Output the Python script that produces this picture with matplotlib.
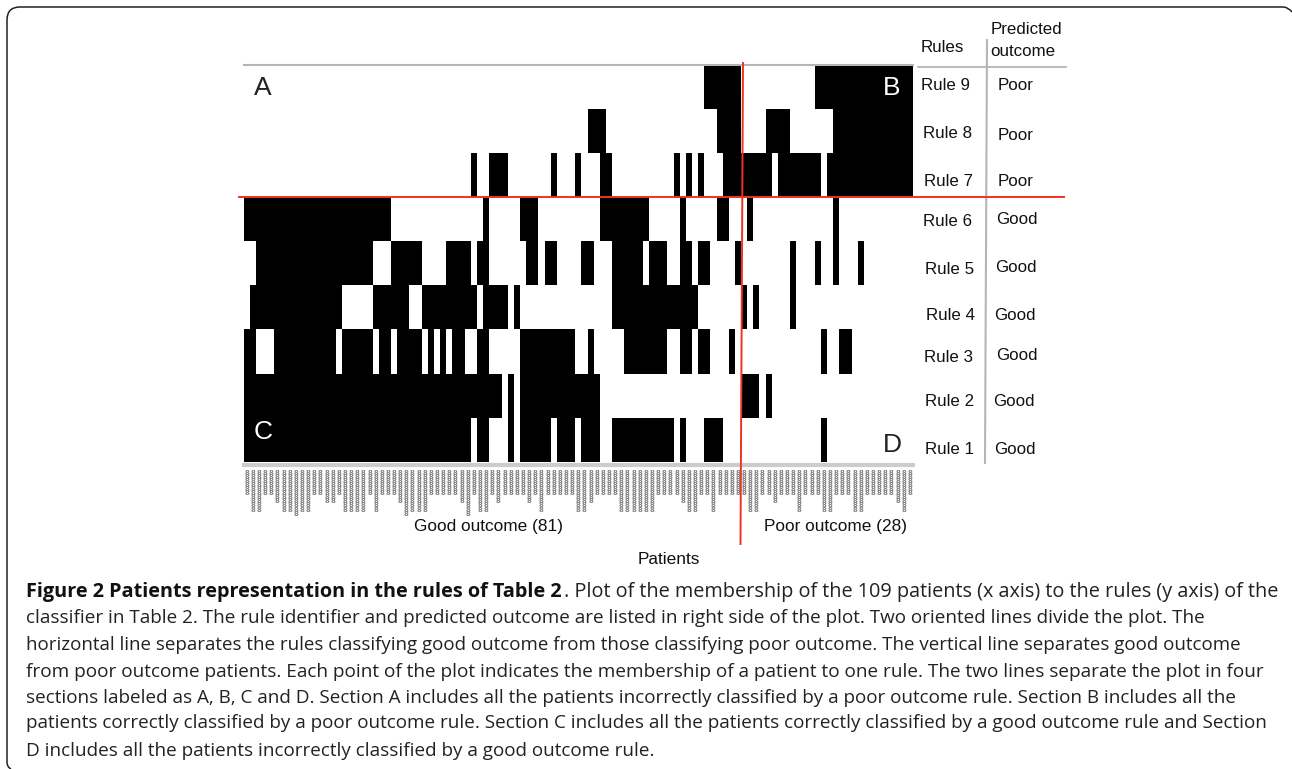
import numpy as np
import matplotlib
matplotlib.use('Agg')
import matplotlib.pyplot as plt
from matplotlib.patches import PathPatch
from matplotlib.path import Path

# membership runs per rule, as (first patient, last patient + 1)
rule_9 = [(75, 81), (93, 109)]
rule_8 = [(56, 59), (77, 81), (85, 89), (96, 109)]
rule_7 = [(37, 38), (40, 43), (50, 51), (54, 55), (58, 60), (70, 71), (72, 73), (74, 75),
          (78, 86), (87, 94), (95, 109)]
rule_6 = [(0, 24), (39, 40), (45, 48), (58, 66), (71, 72), (77, 79), (82, 83), (96, 97)]
rule_5 = [(2, 21), (24, 29), (33, 37), (38, 40), (46, 48), (49, 51), (55, 57), (60, 65),
          (66, 69), (71, 73), (74, 76), (80, 81), (89, 90), (93, 94), (96, 97), (100, 101)]
rule_4 = [(1, 16), (21, 27), (29, 38), (39, 43), (44, 45), (60, 74), (81, 82), (83, 84), (89, 90)]
rule_3 = [(0, 2), (5, 15), (16, 21), (22, 24), (25, 29), (30, 31), (32, 33), (34, 36), (38, 40),
          (45, 54), (56, 57), (62, 69), (71, 73), (74, 76), (79, 80), (94, 95), (97, 99)]
rule_2 = [(0, 42), (43, 44), (45, 58), (81, 84), (85, 86)]
rule_1 = [(0, 37), (38, 40), (43, 44), (45, 50), (51, 54), (55, 58), (60, 70), (71, 72),
          (75, 78), (94, 95)]

n_patients = 109
rule_names = ['Rule 1', 'Rule 2', 'Rule 3', 'Rule 4', 'Rule 5', 'Rule 6', 'Rule 7', 'Rule 8', 'Rule 9']
predicted = ['Good', 'Good', 'Good', 'Good', 'Good', 'Good', 'Poor', 'Poor', 'Poor']

# patient ids are unreadable in the source, only their length can be estimated
id_lengths = [6, 10, 10, 6, 6, 8, 10, 10, 11, 10,
              10, 6, 6, 8, 8, 6, 10, 10, 10, 10,
              6, 10, 6, 6, 6, 8, 11, 10, 10, 10,
              6, 6, 6, 6, 6, 8, 11, 6, 10, 10,
              6, 8, 6, 6, 6, 6, 8, 6, 10, 6,
              6, 6, 6, 6, 10, 10, 8, 6, 6, 6,
              6, 10, 10, 10, 10, 10, 10, 6, 6, 6,
              6, 8, 10, 10, 6, 6, 10, 6, 6, 6,
              6, 6, 10, 10, 6, 6, 8, 6, 6, 6,
              10, 6, 6, 6, 10, 10, 6, 6, 6, 10,
              10, 6, 6, 6, 6, 6, 8, 10, 6]

caption_head = 'Figure 2 Patients representation in the rules of Table 2'
caption_lines = [
    '. Plot of the membership of the 109 patients (x axis) to the rules (y axis) of the',
    'classifier in Table 2. The rule identifier and predicted outcome are listed in right side of the plot. Two oriented lines divide the plot. The',
    'horizontal line separates the rules classifying good outcome from those classifying poor outcome. The vertical line separates good outcome',
    'from poor outcome patients. Each point of the plot indicates the membership of a patient to one rule. The two lines separate the plot in four',
    'sections labeled as A, B, C and D. Section A includes all the patients incorrectly classified by a poor outcome rule. Section B includes all the',
    'patients correctly classified by a poor outcome rule. Section C includes all the patients correctly classified by a good outcome rule and Section',
    'D includes all the patients incorrectly classified by a good outcome rule.',
]

W, H = 1292, 769
plt.rcParams['font.family'] = ['Liberation Sans', 'DejaVu Sans']
fig = plt.figure(figsize=(W / 100, H / 100), dpi=100)

# page overlay in pixel coordinates, for the frame, guide lines and labels
page = fig.add_axes([0, 0, 1, 1])
page.set_xlim(0, W)
page.set_ylim(H, 0)
page.axis('off')

# membership matrix
left, right, top, bottom = 243.7, 913.0, 65.0, 461.7
ax = fig.add_axes([left / W, 1 - bottom / H, (right - left) / W, (bottom - top) / H])
rules = [rule_1, rule_2, rule_3, rule_4, rule_5, rule_6, rule_7, rule_8, rule_9]
member = np.zeros((len(rules), n_patients))
for row, runs in enumerate(rules):
    for a, b in runs:
        member[row, a:b] = 1
ax.pcolormesh(np.arange(n_patients + 1), np.arange(len(rules) + 1), member,
              cmap='gray_r', vmin=0, vmax=1, linewidth=0, rasterized=True)
ax.set_xlim(0, n_patients)
ax.set_ylim(0, len(rules))
ax.axis('off')

# patient ids under the matrix, stacked one glyph per row
for i, n in enumerate(id_lengths):
    ax.annotate('\n'.join('8' * n), (i + 0.5, 0), xycoords=ax.get_xaxis_transform(),
                xytext=(0, -8), textcoords='offset pixels', linespacing=0.62,
                ha='center', va='top', fontsize=5, weight='bold', color='#858585',
                family='DejaVu Sans', annotation_clip=False)

# frame of the figure panel
frame = Path([(11, 769), (7, 767), (7, 762), (7, 20), (7, 7), (20, 7), (1284, 7), (1289, 8), (1292, 12)],
             [Path.MOVETO, Path.CURVE3, Path.CURVE3, Path.LINETO, Path.CURVE3, Path.CURVE3,
              Path.LINETO, Path.CURVE3, Path.CURVE3])
page.add_patch(PathPatch(frame, fc='none', ec='#222222', lw=1.1))

# gray guide lines
page.plot([244, 913], [64.5, 64.5], color='#b5b5b5', lw=1.5)
page.plot([244, 913], [465.3, 465.3], color='#cccccc', lw=3)
page.plot([918, 1066], [66.8, 66.8], color='#b5b5b5', lw=1.3)
page.plot([987, 985], [40, 463], color='#b5b5b5', lw=1.5)

# table on the right
page.text(942.5, 48, 'Rules', fontsize=12.2, ha='center', va='center', color='#111111')
page.text(990.7, 30, 'Predicted', fontsize=12.2, ha='left', va='center', color='#111111')
page.text(990.7, 51, 'outcome', fontsize=12.2, ha='left', va='center', color='#111111')
rule_x = [949.5, 949.5, 948.5, 950, 949.5, 947.5, 948, 947.5, 945.5]
rule_y = [449, 402, 357, 316, 269, 221, 181, 133, 86]
outcome_x = [1015, 1014, 1016.5, 1015, 1015.5, 1016.5, 1016, 1016, 1016]
outcome_y = [449, 402, 356, 316, 268, 219, 182, 135, 86]
for i in range(len(rule_names)):
    page.text(rule_x[i], rule_y[i], rule_names[i], fontsize=12.2, ha='center', va='center', color='#111111')
    page.text(outcome_x[i], outcome_y[i], predicted[i], fontsize=12.2, ha='center', va='center', color='#111111')

# section letters
page.text(263, 88, 'A', fontsize=19, ha='center', va='center', color='#222222', zorder=5)
page.text(892, 88, 'B', fontsize=19, ha='center', va='center', color='white', zorder=5)
page.text(263, 432, 'C', fontsize=19, ha='center', va='center', color='white', zorder=5)
page.text(892, 445, 'D', fontsize=19, ha='center', va='center', color='#222222', zorder=5)
page.set_zorder(ax.get_zorder() + 1)
page.patch.set_alpha(0)

# axis group labels
page.text(488.5, 526, 'Good outcome (81)', fontsize=12.4, ha='center', va='center', color='#111111')
page.text(835.5, 526, 'Poor outcome (28)', fontsize=12.4, ha='center', va='center', color='#111111')
page.text(669, 560, 'Patients', fontsize=12.4, ha='center', va='center', color='#111111')

# the two red dividers
page.plot([239, 1063.5], [197, 197], color='#ee3322', lw=1.4)
page.plot([743, 740.5], [63, 544], color='#ee3322', lw=1.4)


# caption, every run scaled so that it ends where the source line ends
def fitted_text(x, x_end, y, s, **kw):
    t = page.text(x, y, s, family='Open Sans', fontsize=12, ha='left', va='center', **kw)
    width = t.get_window_extent(fig.canvas.get_renderer()).width
    t.set_fontsize(12 * (x_end - x) / width)


cap_y = [592, 618, 645, 672, 698, 723, 751]
cap_ends = [1276, 1201, 1235, 1260, 1232, 1262, 650]
fitted_text(26, 564, cap_y[0], caption_head, weight='bold', color='#111111')
fitted_text(564, cap_ends[0], cap_y[0], caption_lines[0], color='#222222')
for y, end, line in zip(cap_y[1:], cap_ends[1:], caption_lines[1:]):
    fitted_text(26, end, y, line, color='#222222')

fig.savefig('out.png', dpi=100)
